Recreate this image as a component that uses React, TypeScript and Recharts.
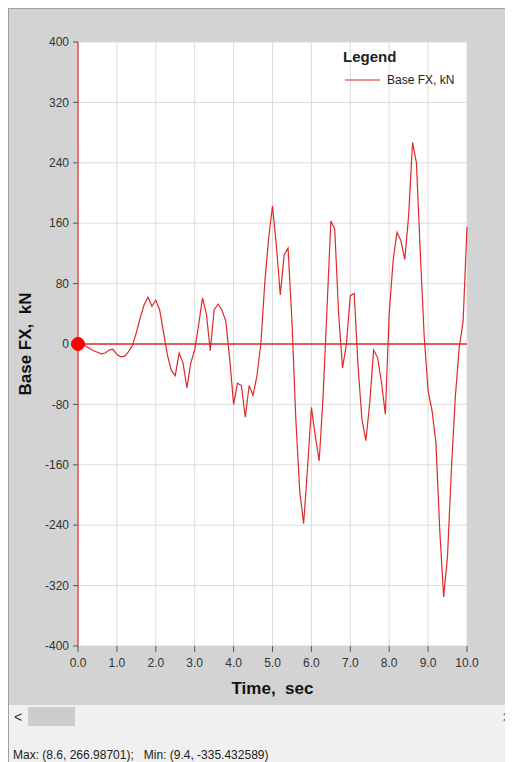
import React from 'react';
import {
  LineChart,
  Line,
  XAxis,
  YAxis,
  CartesianGrid,
  ReferenceLine,
  ReferenceDot,
} from 'recharts';

const times: number[] = [
  0.0, 0.1, 0.2, 0.3, 0.4, 0.5, 0.6, 0.7, 0.8, 0.9,
  1.0, 1.1, 1.2, 1.3, 1.4, 1.5, 1.6, 1.7, 1.8, 1.9,
  2.0, 2.1, 2.2, 2.3, 2.4, 2.5, 2.6, 2.7, 2.8, 2.9,
  3.0, 3.1, 3.2, 3.3, 3.4, 3.5, 3.6, 3.7, 3.8, 3.9,
  4.0, 4.1, 4.2, 4.3, 4.4, 4.5, 4.6, 4.7, 4.8, 4.9,
  5.0, 5.1, 5.2, 5.3, 5.4, 5.5, 5.6, 5.7, 5.8, 5.9,
  6.0, 6.1, 6.2, 6.3, 6.4, 6.5, 6.6, 6.7, 6.8, 6.9,
  7.0, 7.1, 7.2, 7.3, 7.4, 7.5, 7.6, 7.7, 7.8, 7.9,
  8.0, 8.1, 8.2, 8.3, 8.4, 8.5, 8.6, 8.7, 8.8, 8.9,
  9.0, 9.1, 9.2, 9.3, 9.4, 9.5, 9.6, 9.7, 9.8, 9.9,
  10.0,
];

const baseFX: number[] = [
  0, 2, -3, -6, -9, -11, -13, -12, -8, -7,
  -14, -17, -16, -10, -2, 15, 35, 52, 62, 50,
  58, 45, 15, -15, -35, -42, -12, -25, -58, -25,
  -8, 25, 61, 40, -9, 45, 53, 45, 30, -20,
  -80, -52, -55, -97, -55, -68, -42, 0, 80, 140,
  183, 130, 65, 118, 127, 30, -100, -195, -238, -165,
  -84, -122, -155, -70, 45, 163, 152, 40, -32, 0,
  64, 67, -30, -100, -128, -78, -8, -18, -50, -93,
  40, 110, 148, 137, 112, 170, 267, 240, 120, 10,
  -62, -88, -130, -247, -335, -280, -165, -70, -5, 30,
  155,
];

const xTicks: number[] = [0, 1, 2, 3, 4, 5, 6, 7, 8, 9, 10];
const yTicks: number[] = [-400, -320, -240, -160, -80, 0, 80, 160, 240, 320, 400];

const seriesName = 'Base FX, kN';
const xTitle = 'Time,  sec';
const yTitle = 'Base FX,  kN';
const legendTitle = 'Legend';
const statusText = 'Max: (8.6, 266.98701);   Min: (9.4, -335.432589)';

const data = times.map((t, i) => ({ t, v: baseFX[i] }));

const FONT = '"Liberation Sans", Arial, Helvetica, sans-serif';
const RED = '#e02a2a';

export default function App() {
  return (
    <div
      style={{
        width: 505,
        height: 754,
        position: 'relative',
        boxSizing: 'border-box',
        borderLeft: '1px solid #a0a0a0',
        borderTop: '1px solid #a0a0a0',
        background: '#f0f0f0',
        fontFamily: FONT,
        overflow: 'hidden',
      }}
    >
      <div style={{ background: '#d3d3d3', height: 696, width: 504 }}>
        <LineChart
          width={504}
          height={696}
          data={data}
          margin={{ top: 33, right: 46, bottom: 0, left: 0 }}
        >
          <CartesianGrid stroke="#dcdcdc" fill="#ffffff" />
          <XAxis
            dataKey="t"
            type="number"
            domain={[0, 10]}
            ticks={xTicks}
            tickFormatter={(v: number) => v.toFixed(1)}
            height={59}
            axisLine={false}
            tickLine={{ stroke: '#555' }}
            tickSize={6}
            tickMargin={6}
            tick={{ fontSize: 12, fill: '#333', fontFamily: FONT }}
            interval={0}
            label={{
              content: (props: any) => {
                const vb = props.viewBox || { x: 0, y: 0, width: 0 };
                return (
                  <text
                    x={vb.x + vb.width / 2}
                    y={vb.y + 42}
                    textAnchor="middle"
                    dominantBaseline="central"
                    fontFamily={FONT}
                    fontSize={17}
                    fontWeight="bold"
                    fill="#111"
                    style={{ whiteSpace: 'pre' }}
                  >
                    {xTitle}
                  </text>
                );
              },
            }}
          />
          <YAxis
            type="number"
            domain={[-400, 400]}
            ticks={yTicks}
            width={69}
            axisLine={{ stroke: RED, strokeWidth: 1.2 }}
            tickLine={{ stroke: '#555' }}
            tickSize={5}
            tickMargin={4}
            tick={{ fontSize: 12, fill: '#333', fontFamily: FONT }}
            interval={0}
            label={{
              content: (props: any) => {
                const vb = props.viewBox || { x: 0, y: 0, height: 0 };
                const cx = 16;
                const cy = vb.y + vb.height / 2;
                return (
                  <text
                    x={cx}
                    y={cy}
                    textAnchor="middle"
                    dominantBaseline="central"
                    transform={`rotate(-90, ${cx}, ${cy})`}
                    fontFamily={FONT}
                    fontSize={17}
                    fontWeight="bold"
                    fill="#111"
                    style={{ whiteSpace: 'pre' }}
                  >
                    {yTitle}
                  </text>
                );
              },
            }}
          />
          <ReferenceLine y={0} stroke={RED} strokeWidth={1.5} />
          <Line
            type="linear"
            dataKey="v"
            name={seriesName}
            stroke={RED}
            strokeWidth={1.2}
            dot={false}
            isAnimationActive={false}
          />
          <ReferenceDot
            x={0}
            y={0}
            r={6.5}
            fill="#ff0000"
            stroke="#ff0000"
            ifOverflow="visible"
          />
        </LineChart>
      </div>
      <svg
        width={140}
        height={50}
        style={{ position: 'absolute', left: 332, top: 37, overflow: 'visible' }}
      >
        <text x={2} y={16} fontFamily={FONT} fontSize={15} fontWeight="bold" fill="#222">
          {legendTitle}
        </text>
        <line x1={4} y1={34} x2={39} y2={34} stroke={RED} strokeWidth={1.2} />
        <text x={46} y={38} fontFamily={FONT} fontSize={12} fill="#222">
          {seriesName}
        </text>
      </svg>
      <div style={{ position: 'absolute', left: 5, top: 700, fontSize: 14, color: '#333' }}>
        &lt;
      </div>
      <div
        style={{
          position: 'absolute',
          left: 19,
          top: 698,
          width: 47,
          height: 19,
          background: '#cdcdcd',
        }}
      />
      <div style={{ position: 'absolute', left: 494, top: 700, fontSize: 14, color: '#333' }}>
        &gt;
      </div>
      <div
        style={{
          position: 'absolute',
          left: 4,
          top: 739,
          fontSize: 12,
          color: '#222',
          whiteSpace: 'pre',
          lineHeight: '14px',
        }}
      >
        {statusText}
      </div>
    </div>
  );
}
